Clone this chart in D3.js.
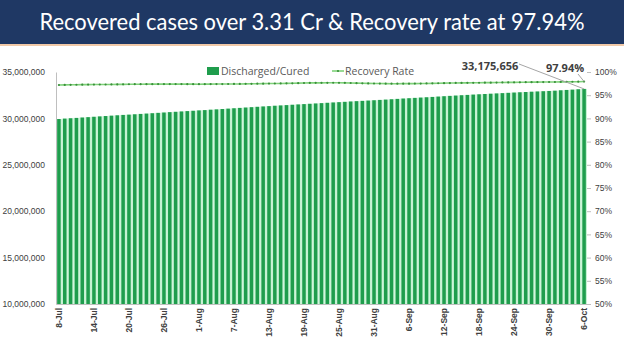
<!DOCTYPE html>
<html>
<head>
<meta charset="utf-8">
<script src="https://cdn.jsdelivr.net/npm/d3@7"></script>
<style>
  body { margin: 0; background: #fff; }
  svg { display: block; font-family: "Open Sans", "DejaVu Sans", sans-serif; }
</style>
</head>
<body>
<div class="chart"></div>
<script>
// cumulative discharged/cured, in thousands, 8-Jul .. 6-Oct
const dates = d3.timeDays(new Date(2021, 6, 8), new Date(2021, 9, 7));
const cured = [
  29934, 29977, 30016, 30052, 30094, 30134, 30174, 30214, 30255, 30293,
  30334, 30374, 30404, 30443, 30482, 30518, 30557, 30596, 30633, 30674,
  30710, 30747, 30785, 30821, 30862, 30894, 30936, 30971, 31011, 31051,
  31091, 31130, 31170, 31209, 31248, 31286, 31322, 31362, 31396, 31431,
  31469, 31505, 31540, 31574, 31608, 31644, 31680, 31716, 31750, 31784,
  31822, 31856, 31889, 31921, 31955, 31991, 32025, 32063, 32101, 32139,
  32174, 32210, 32243, 32277, 32313, 32351, 32389, 32425, 32459, 32495,
  32529, 32564, 32598, 32630, 32659, 32690, 32722, 32754, 32784, 32815,
  32845, 32874, 32901, 32929, 32957, 32985, 33028, 33065, 33099, 33140,
  33176
];
const recoveryRate = [
  97.20, 97.22, 97.24, 97.25, 97.27, 97.28, 97.29, 97.31, 97.31, 97.32,
  97.33, 97.34, 97.36, 97.37, 97.37, 97.38, 97.38, 97.39, 97.39, 97.39,
  97.39, 97.39, 97.38, 97.38, 97.37, 97.38, 97.39, 97.40, 97.40, 97.41,
  97.42, 97.43, 97.45, 97.46, 97.48, 97.49, 97.51, 97.52, 97.53, 97.55,
  97.57, 97.60, 97.63, 97.65, 97.66, 97.66, 97.67, 97.68, 97.67, 97.66,
  97.63, 97.60, 97.57, 97.54, 97.52, 97.51, 97.49, 97.48, 97.48, 97.49,
  97.49, 97.50, 97.51, 97.53, 97.55, 97.58, 97.60, 97.62, 97.64, 97.65,
  97.66, 97.67, 97.68, 97.70, 97.71, 97.73, 97.75, 97.76, 97.77, 97.78,
  97.80, 97.81, 97.82, 97.83, 97.84, 97.85, 97.87, 97.88, 97.90, 97.91,
  97.94
];
const leftTicks = [10e6, 15e6, 20e6, 25e6, 30e6, 35e6];
const rightTicks = [50, 55, 60, 65, 70, 75, 80, 85, 90, 95, 100];
const title = 'Recovered cases over 3.31 Cr & Recovery rate at 97.94%';
const lastCuredLabel = '33,175,656';
const lastRateLabel = '97.94%';

const width = 624, height = 350;
const margin = { top: 72, right: 37, bottom: 46, left: 56 };
const fmtDate = d3.timeFormat('%-d-%b');

const svg = d3.select('.chart').append('svg')
  .attr('width', width)
  .attr('height', height);

// title banner
svg.append('rect').attr('x', 0).attr('y', 0).attr('width', width).attr('height', 44).attr('fill', '#1f3864');
svg.append('rect').attr('x', 0).attr('y', 44).attr('width', width).attr('height', 2).attr('fill', '#f1c9a8');
const titleText = svg.append('text')
  .attr('x', width / 2).attr('y', 30)
  .attr('text-anchor', 'middle')
  .attr('fill', '#fff')
  .attr('font-family', 'Lato, "Open Sans", sans-serif')
  .attr('font-size', 23)
  .text(title);
if (titleText.node().getComputedTextLength() > 545) titleText.attr('textLength', 545).attr('lengthAdjust', 'spacingAndGlyphs');

const x = d3.scaleBand()
  .domain(dates)
  .range([margin.left, width - margin.right])
  .padding(0);

const y = d3.scaleLinear()
  .domain([10e6, 35e6])
  .range([height - margin.bottom, margin.top]);

const yRate = d3.scaleLinear()
  .domain([50, 100])
  .range([height - margin.bottom, margin.top]);

// bars: pale band behind, darker bar inside
const bars = svg.append('g');
bars.selectAll('.band')
  .data(dates)
  .enter()
  .append('rect')
  .attr('x', d => x(d))
  .attr('width', x.bandwidth())
  .attr('y', (d, i) => y(cured[i] * 1000))
  .attr('height', (d, i) => y(10e6) - y(cured[i] * 1000))
  .attr('fill', '#c4f2d2');
bars.selectAll('.bar')
  .data(dates)
  .enter()
  .append('rect')
  .attr('x', d => x(d) + x.bandwidth() * 0.2)
  .attr('width', x.bandwidth() * 0.6)
  .attr('y', (d, i) => y(cured[i] * 1000))
  .attr('height', (d, i) => y(10e6) - y(cured[i] * 1000))
  .attr('fill', '#1f9d4d');

// axes
const leftAxis = svg.append('g')
  .attr('transform', `translate(${margin.left},0)`)
  .call(d3.axisLeft(y).tickValues(leftTicks).tickSize(0).tickPadding(11).tickFormat(d3.format(',')));
leftAxis.select('.domain').attr('stroke', '#bfbfbf');
leftAxis.selectAll('text').attr('font-size', 8.5).attr('fill', '#404040');

const rightAxis = svg.append('g')
  .attr('transform', `translate(${width - margin.right},0)`)
  .call(d3.axisRight(yRate).tickValues(rightTicks).tickSize(4).tickPadding(4).tickFormat(d => d + '%'));
rightAxis.select('.domain').remove();
rightAxis.selectAll('line').attr('stroke', '#bfbfbf');
rightAxis.selectAll('text').attr('font-size', 8.5).attr('fill', '#404040');

const bottomAxis = svg.append('g')
  .attr('transform', `translate(0,${height - margin.bottom})`)
  .call(d3.axisBottom(x).tickValues(dates.filter((d, i) => i % 6 === 0)).tickSize(0).tickFormat(fmtDate));
bottomAxis.select('.domain').attr('stroke', '#bfbfbf');
bottomAxis.selectAll('text')
  .attr('font-size', 8.5)
  .attr('font-weight', 'bold')
  .attr('fill', '#404040')
  .attr('text-anchor', 'end')
  .attr('dy', '0.32em')
  .attr('transform', 'translate(0,4) rotate(-90)')
  .attr('y', 0)
  .attr('x', 0);

// recovery rate line
const line = d3.line()
  .x((d, i) => x(dates[i]) + x.bandwidth() / 2)
  .y(d => yRate(d));
svg.append('path')
  .datum(recoveryRate)
  .attr('d', line)
  .attr('fill', 'none')
  .attr('stroke', '#7fd17a')
  .attr('stroke-width', 1.6);
svg.append('g').selectAll('circle')
  .data(recoveryRate)
  .enter()
  .append('circle')
  .attr('cx', (d, i) => x(dates[i]) + x.bandwidth() / 2)
  .attr('cy', d => yRate(d))
  .attr('r', 1.1)
  .attr('fill', '#3a8f3a');

// annotations for the last day
const lastX = x(dates[dates.length - 1]) + x.bandwidth() / 2;
svg.append('text')
  .attr('x', 490).attr('y', 70)
  .attr('text-anchor', 'middle')
  .attr('font-size', 11).attr('font-weight', 'bold')
  .attr('fill', '#404040')
  .text(lastCuredLabel);
svg.append('line')
  .attr('x1', 519).attr('y1', 64)
  .attr('x2', lastX).attr('y2', y(cured[cured.length - 1] * 1000))
  .attr('stroke', '#a6a6a6');
svg.append('text')
  .attr('x', 565).attr('y', 72)
  .attr('text-anchor', 'middle')
  .attr('font-size', 11).attr('font-weight', 'bold')
  .attr('fill', '#404040')
  .text(lastRateLabel);
svg.append('line')
  .attr('x1', 578).attr('y1', 74)
  .attr('x2', lastX).attr('y2', yRate(recoveryRate[recoveryRate.length - 1]))
  .attr('stroke', '#a6a6a6');

// legend
const legend = svg.append('g').attr('transform', 'translate(207,71)');
legend.append('rect').attr('x', 0).attr('y', -4).attr('width', 12).attr('height', 8).attr('fill', '#1f9d4d');
legend.append('text').attr('x', 14).attr('y', 0).attr('dy', '0.35em')
  .attr('font-size', 10.5).attr('fill', '#595959').text('Discharged/Cured');
legend.append('line').attr('x1', 125).attr('x2', 137).attr('y1', 0).attr('y2', 0)
  .attr('stroke', '#7fd17a').attr('stroke-width', 1.6);
legend.append('circle').attr('cx', 131).attr('cy', 0).attr('r', 1.1).attr('fill', '#3a8f3a');
legend.append('text').attr('x', 138).attr('y', 0).attr('dy', '0.35em')
  .attr('font-size', 10.5).attr('fill', '#595959').text('Recovery Rate');
</script>
</body>
</html>
